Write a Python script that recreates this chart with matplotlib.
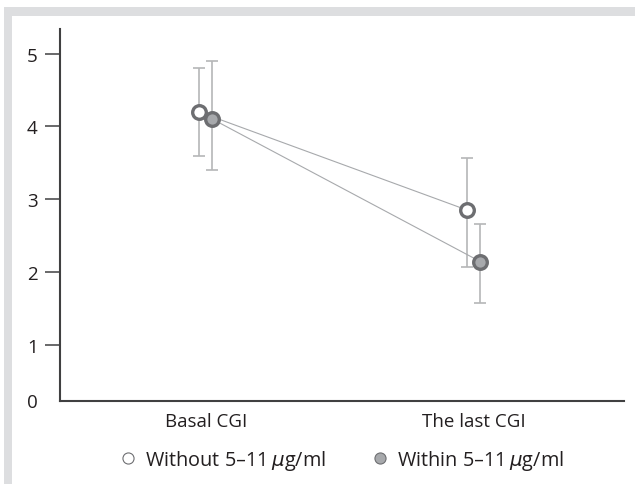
import matplotlib
matplotlib.use("Agg")
import matplotlib.pyplot as plt
from matplotlib.lines import Line2D
from matplotlib.patches import Rectangle

plt.rcParams['font.family'] = ['Open Sans', 'DejaVu Sans']

# data
categories = ["Basal CGI", "The last CGI"]
without_mean = [4.20, 2.85]
without_err_low = [0.61, 0.79]
without_err_high = [0.61, 0.72]
within_mean = [4.10, 2.14]
within_err_low = [0.70, 0.57]
within_err_high = [0.80, 0.52]
legend_labels = ["Without 5\u201311\u2009$\\mu$g/ml", "Within 5\u201311\u2009$\\mu$g/ml"]

edge = "#6d6e71"
fill = "#a7a9ac"
line_c = "#a7a9ac"
err_c = "#b5b6b8"
txt = "#231f20"
axis_c = "#404041"

W, H = 635, 485
fig = plt.figure(figsize=(W / 100, H / 100), dpi=100)

# light grey frame at top and left
fig.patches.append(Rectangle((4 / W, 1 - 17 / H), 1 - 4 / W, 9 / H, transform=fig.transFigure,
                             color="#dddee0", lw=0, zorder=0))
fig.patches.append(Rectangle((4 / W, 0), 8 / W, 1 - 8 / H, transform=fig.transFigure,
                             color="#dddee0", lw=0, zorder=0))

ax = fig.add_axes([60 / W, 83.5 / H, 564 / W, 371.5 / H])

x = list(range(len(categories)))
off = 0.025
xa = [v - off for v in x]
xb = [v + off for v in x]

ax.plot(xa, without_mean, color=line_c, lw=0.8, zorder=2)
ax.plot(xb, within_mean, color=line_c, lw=0.8, zorder=2)

ax.errorbar(xa, without_mean, yerr=[without_err_low, without_err_high], fmt="none",
            ecolor=err_c, elinewidth=1.2, capsize=4.6, capthick=1.2, zorder=1)
ax.errorbar(xb, within_mean, yerr=[within_err_low, within_err_high], fmt="none",
            ecolor=err_c, elinewidth=1.2, capsize=4.6, capthick=1.2, zorder=1)

ax.plot(xa, without_mean, "o", ms=9.8, mfc="white", mec=edge, mew=2.4, ls="none", zorder=3)
ax.plot(xb, within_mean, "o", ms=9.8, mfc=fill, mec=edge, mew=2.4, ls="none", zorder=3)

ymin = 0.23
ax.set_ylim(ymin, 5.34)
ax.set_xlim(-0.544, 1.561)

ax.set_yticks([ymin, 1, 2, 3, 4, 5])
ax.set_yticklabels(["0", "1", "2", "3", "4", "5"])
ax.yaxis.get_major_ticks()[0].tick1line.set_visible(False)
ax.set_xticks(x)
ax.set_xticklabels(categories)

ax.tick_params(axis="y", length=11, width=1.1, color=axis_c, pad=5, labelsize=13.5, labelcolor=txt)
ax.tick_params(axis="x", length=0, pad=8, labelsize=13.5, labelcolor=txt)

for s in ["top", "right"]:
    ax.spines[s].set_visible(False)
for s in ["left", "bottom"]:
    ax.spines[s].set_color(axis_c)
    ax.spines[s].set_linewidth(1.5)

handles = [
    Line2D([], [], marker="o", ls="none", ms=8, mfc="white", mec=edge, mew=0.8),
    Line2D([], [], marker="o", ls="none", ms=8, mfc=fill, mec=edge, mew=0.8),
]
fig.legend(handles, legend_labels, loc="center", bbox_to_anchor=(342 / W, 1 - 461 / H),
           ncol=2, frameon=False, handlelength=0.8, handletextpad=0.45, columnspacing=2.3,
           fontsize=14.3, labelcolor=txt)

fig.savefig("out.png", dpi=100)
